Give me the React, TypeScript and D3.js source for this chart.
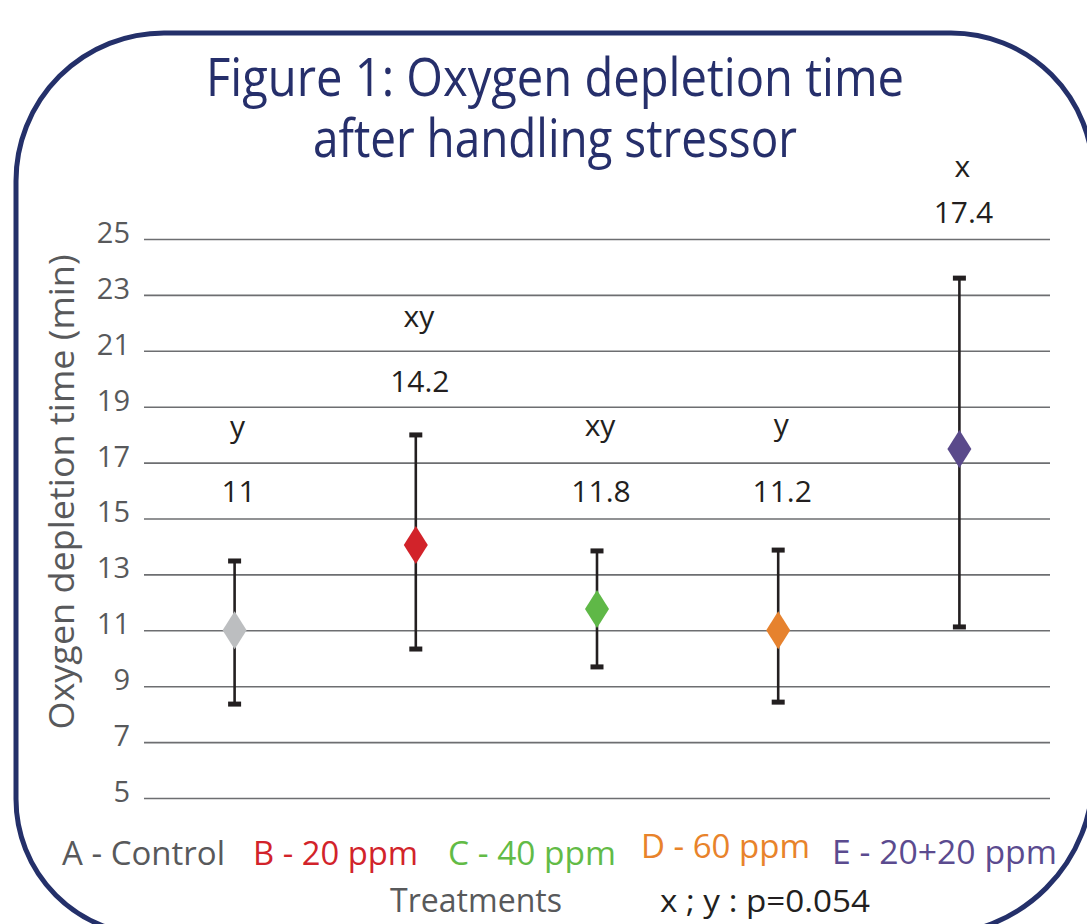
import React, { useEffect, useRef } from "react";
import * as d3 from "d3";

// treatment groups, plotted means and error bar ends (min)
const groups = ["A", "B", "C", "D", "E"];
const means = [11.0, 14.05, 11.76, 11.0, 17.49];
const upper = [13.48, 17.99, 13.84, 13.87, 23.6];
const lower = [8.36, 10.33, 9.69, 8.43, 11.12];
const colors = ["#bcbec0", "#d2232a", "#5fb847", "#e6822e", "#5a4a8b"];

// annotations above each point: significance letters and reported means
const letters = ["y", "xy", "xy", "y", "x"];
const meanLabels = ["11", "14.2", "11.8", "11.2", "17.4"];
const letterLevel = [17.92, 21.85, 17.95, 17.98, 27.22];
const meanLevel = [15.59, 19.53, 15.59, 15.59, 25.57];

const yTicks = [5, 7, 9, 11, 13, 15, 17, 19, 21, 23, 25];

const legendLabels = ["A - Control", "B - 20 ppm", "C - 40 ppm", "D - 60 ppm", "E - 20+20 ppm"];
const legendColors = ["#58595b", "#d2232a", "#62bb46", "#e8832b", "#5b4b8f"];

const FONT = "'Open Sans', 'DejaVu Sans', sans-serif";

const App = () => {
    const svgRef = useRef<SVGSVGElement>(null);

    useEffect(() => {
        const width = 1087, height = 924;
        const svg = d3.select(svgRef.current)
            .attr("width", width)
            .attr("height", height);

        svg.selectAll("*").remove();

        // rounded frame
        const left = 16, top = 33, right = 1093, bottom = 935;
        const rTL = 148, rTR = 142, rBR = 160, rBL = 136;
        const p = d3.path();
        p.moveTo(left + rTL, top);
        p.lineTo(right - rTR, top);
        p.arcTo(right, top, right, top + rTR, rTR);
        p.lineTo(right, bottom - rBR);
        p.arcTo(right, bottom, right - rBR, bottom, rBR);
        p.lineTo(left + rBL, bottom);
        p.arcTo(left, bottom, left, bottom - rBL, rBL);
        p.lineTo(left, top + rTL);
        p.arcTo(left, top, left + rTL, top, rTL);
        p.closePath();
        svg.append("path")
            .attr("d", p.toString())
            .attr("fill", "none")
            .attr("stroke", "#24306a")
            .attr("stroke-width", 5);

        // title
        const title = svg.append("g")
            .attr("fill", "#262f6b")
            .attr("font-family", FONT)
            .attr("font-size", 53)
            .attr("text-anchor", "middle");
        title.append("text")
            .attr("x", 555).attr("y", 96)
            .attr("textLength", 698)
            .attr("lengthAdjust", "spacingAndGlyphs")
            .text("Figure 1: Oxygen depletion time");
        title.append("text")
            .attr("x", 555).attr("y", 157)
            .attr("textLength", 484)
            .attr("lengthAdjust", "spacingAndGlyphs")
            .text("after handling stressor");

        const xScale = d3.scaleBand()
            .domain(groups)
            .range([144, 1050]);
        const cx = (i: number) => (xScale(groups[i]) as number) + xScale.bandwidth() / 2;

        const yScale = d3.scaleLinear()
            .domain([5, 25])
            .range([798, 239]);

        // gridlines + tick labels
        const yAxis = d3.axisLeft(yScale)
            .tickValues(yTicks)
            .tickSize(-(1050 - 144))
            .tickPadding(14);

        const gAxis = svg.append("g")
            .attr("transform", "translate(144,0)")
            .call(yAxis);
        gAxis.select(".domain").remove();
        gAxis.selectAll(".tick line")
            .attr("stroke", "#6d6e71")
            .attr("stroke-width", 1.6);
        gAxis.selectAll(".tick text")
            .attr("fill", "#58595b")
            .attr("font-family", FONT)
            .attr("font-size", 29)
            .attr("dy", "0.12em");

        // axis title
        svg.append("text")
            .attr("transform", "translate(74,492) rotate(-90)")
            .attr("text-anchor", "middle")
            .attr("fill", "#58595b")
            .attr("font-family", FONT)
            .attr("font-size", 35)
            .attr("textLength", 475)
            .attr("lengthAdjust", "spacingAndGlyphs")
            .text("Oxygen depletion time (min)");

        // error bars
        const bars = svg.append("g");
        groups.forEach((g, i) => {
            const x = cx(i);
            bars.append("line")
                .attr("x1", x).attr("x2", x)
                .attr("y1", yScale(upper[i])).attr("y2", yScale(lower[i]))
                .attr("stroke", "#231f20")
                .attr("stroke-width", 2.6);
            [upper[i], lower[i]].forEach(v => {
                bars.append("rect")
                    .attr("x", x - 6.5).attr("y", yScale(v) - 2.5)
                    .attr("width", 13).attr("height", 5)
                    .attr("fill", "#231f20");
            });
        });

        // diamonds
        const diamond = (x: number, y: number) =>
            `M${x},${y - 19}L${x + 12},${y}L${x},${y + 19}L${x - 12},${y}Z`;
        svg.append("g")
            .selectAll("path")
            .data(means)
            .enter()
            .append("path")
            .attr("d", (d, i) => diamond(cx(i), yScale(d)))
            .attr("fill", (d, i) => colors[i]);

        // annotations
        const notes = svg.append("g")
            .attr("fill", "#231f20")
            .attr("font-family", FONT)
            .attr("font-size", 30)
            .attr("text-anchor", "middle");
        groups.forEach((g, i) => {
            notes.append("text")
                .attr("x", cx(i) + 3)
                .attr("y", yScale(letterLevel[i]))
                .text(letters[i]);
            notes.append("text")
                .attr("x", cx(i) + 4)
                .attr("y", yScale(meanLevel[i]))
                .text(meanLabels[i]);
        });

        // treatment legend row
        const legendX = [62, 253, 448, 641, 832];
        const legendY = [865, 865, 865, 858, 864];
        const legendW = [163, 165, 168, 169, 225];
        const legend = svg.append("g")
            .attr("font-family", FONT)
            .attr("font-size", 33);
        legendLabels.forEach((t, i) => {
            legend.append("text")
                .attr("x", legendX[i])
                .attr("y", legendY[i])
                .attr("fill", legendColors[i])
                .attr("textLength", legendW[i])
                .attr("lengthAdjust", "spacingAndGlyphs")
                .text(t);
        });

        svg.append("text")
            .attr("x", 390).attr("y", 912)
            .attr("fill", "#58595b")
            .attr("font-family", FONT)
            .attr("font-size", 33)
            .attr("textLength", 172)
            .attr("lengthAdjust", "spacingAndGlyphs")
            .text("Treatments");

        svg.append("text")
            .attr("x", 660).attr("y", 912)
            .attr("fill", "#231f20")
            .attr("font-family", FONT)
            .attr("font-size", 31)
            .attr("textLength", 210)
            .attr("lengthAdjust", "spacingAndGlyphs")
            .text("x ; y : p=0.054");
    }, []);

    return (
        <svg ref={svgRef} style={{ position: "absolute", left: 0, top: 0, background: "#fff" }}></svg>
    );
};

export default App;
